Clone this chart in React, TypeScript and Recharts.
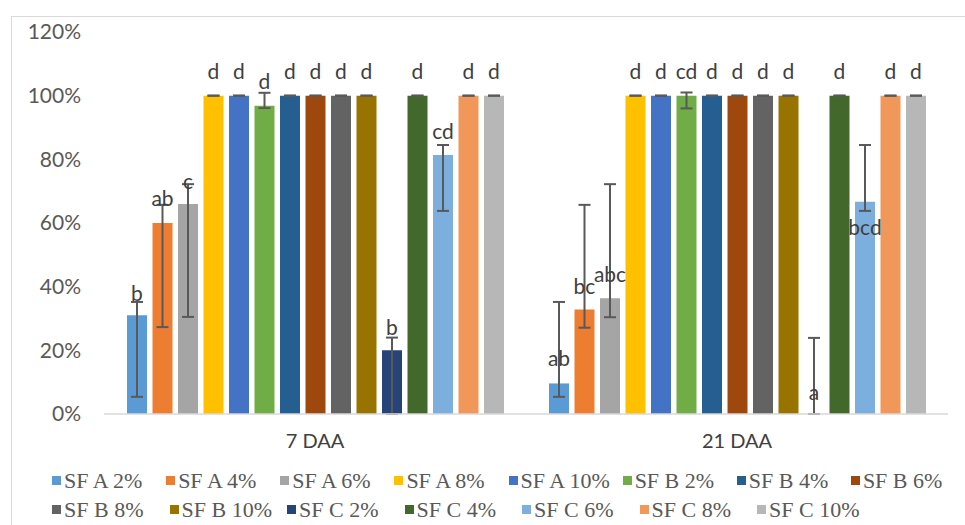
import React from 'react';
import { BarChart, Bar, XAxis, YAxis, ErrorBar, LabelList, Legend } from 'recharts';

const categories = ['7 DAA', '21 DAA'];

const seriesNames = [
  'SF A 2%', 'SF A 4%', 'SF A 6%', 'SF A 8%', 'SF A 10%',
  'SF B 2%', 'SF B 4%', 'SF B 6%', 'SF B 8%', 'SF B 10%',
  'SF C 2%', 'SF C 4%', 'SF C 6%', 'SF C 8%', 'SF C 10%',
];

const seriesColors = [
  '#5B9BD5', '#ED7D31', '#A5A5A5', '#FFC000', '#4472C4',
  '#70AD47', '#255E91', '#9E480E', '#636363', '#997300',
  '#264478', '#43682B', '#7CAFDD', '#F1975A', '#B7B7B7',
];

// percent values, one row per category (SF C 2% at 21 DAA is ~0)
const values7 = [31, 60, 66, 100, 100, 96.8, 100, 100, 100, 100, 20, 100, 81.4, 100, 100];
const values21 = [9.6, 32.8, 36.4, 100, 100, 100, 100, 100, 100, 100, 0.01, 100, 66.7, 100, 100];

// error amounts below / above the value
const errLow7 = [25.6, 32.7, 35.5, 0, 0, 0.7, 0, 0, 0, 0, 20, 0, 17.6, 0, 0];
const errHigh7 = [4.2, 5.7, 6.2, 0, 0, 4.1, 0, 0, 0, 0, 4, 0, 3.1, 0, 0];
const errLow21 = [4.2, 5.7, 6, 0, 0, 4, 0, 0, 0, 0, 0, 0, 2.9, 0, 0];
const errHigh21 = [25.6, 32.9, 35.8, 0, 0, 1, 0, 0, 0, 0, 23.9, 0, 17.8, 0, 0];

// significance letters and the height (in %) where each sits
const letters7 = ['b', 'ab', 'c', 'd', 'd', 'd', 'd', 'd', 'd', 'd', 'b', 'd', 'cd', 'd', 'd'];
const letters21 = ['ab', 'bc', 'abc', 'd', 'd', 'cd', 'd', 'd', 'd', 'd', 'a', 'd', 'bcd', 'd', 'd'];
const letterAt7 = [38.3, 67.9, 73.5, 107.8, 107.8, 104.7, 107.8, 107.8, 107.8, 107.8, 27.4, 107.8, 89.2, 107.8, 107.8];
const letterAt21 = [17.6, 40.5, 44, 107.8, 107.8, 107.8, 107.8, 107.8, 107.8, 107.8, 7.2, 107.8, 58.8, 107.8, 107.8];

const yTicks = [0, 20, 40, 60, 80, 100, 120];

const valueRows = [values7, values21];
const letterAtRows = [letterAt7, letterAt21];

const chartData = categories.map((cat, c) => {
  const row: any = { name: cat };
  seriesNames.forEach((_, i) => {
    row[`s${i}`] = valueRows[c][i];
    row[`e${i}`] = c === 0 ? [errLow7[i], errHigh7[i]] : [errLow21[i], errHigh21[i]];
    row[`l${i}`] = c === 0 ? letters7[i] : letters21[i];
  });
  return row;
});

// px per percent, taken from the bars the library has drawn
let pxPerUnit = 0;

const makeLetter = (i: number) => (props: any) => {
  const { x, y, width, height, value, index } = props;
  const v = valueRows[index][i];
  if (v >= 1 && height > 0) pxPerUnit = height / v;
  const base = Number(y) + Number(height);
  const ly = base - letterAtRows[index][i] * pxPerUnit;
  return (
    <text
      x={Number(x) + Number(width) / 2}
      y={ly}
      textAnchor="middle"
      dominantBaseline="central"
      fill="#404040"
      fontSize={21}
      fontFamily="Lato, sans-serif"
    >
      {value}
    </text>
  );
};

const LegendRows = () => (
  <div style={{ width: 965, fontFamily: '"Liberation Serif", "Times New Roman", serif', fontSize: 22, color: '#595959' }}>
    {[0, 1].map((r) => (
      <div key={r} style={{ display: 'flex', paddingLeft: 52, height: 29, alignItems: 'center' }}>
        {seriesNames.slice(r * 8, r * 8 + 8).map((n, k) => (
          <div key={n} style={{ width: 117.5, display: 'flex', alignItems: 'center', whiteSpace: 'nowrap' }}>
            <span style={{ width: 9, height: 9, background: seriesColors[r * 8 + k], marginRight: 3 }} />
            {n}
          </div>
        ))}
      </div>
    ))}
  </div>
);

export default function App() {
  return (
    <div style={{ position: 'absolute', left: 0, top: 0, width: 965, height: 525, background: '#fff', overflow: 'hidden' }}>
      <div style={{ position: 'absolute', left: 11, top: 16, width: 1000, height: 600, borderLeft: '1.5px solid #d9d9d9', borderTop: '1.5px solid #d9d9d9' }} />
      <div style={{ position: 'absolute', left: 0, top: 0 }}>
        <BarChart
          width={965}
          height={525}
          data={chartData}
          margin={{ top: 32, right: 17, left: 0, bottom: 0 }}
          barSize={20}
          barGap={5.5}
        >
          <XAxis
            dataKey="name"
            axisLine={{ stroke: '#d9d9d9', strokeWidth: 1.5 }}
            tickLine={false}
            tickSize={0}
            tickMargin={20}
            height={53}
            tick={{ fill: '#404040', fontSize: 20, fontFamily: 'Lato, sans-serif' }}
          />
          <YAxis
            domain={[0, 120]}
            ticks={yTicks}
            width={104}
            axisLine={false}
            tickLine={false}
            tickSize={0}
            tickMargin={23}
            tickFormatter={(v) => `${v}%`}
            tick={{ fill: '#595959', fontSize: 21, fontFamily: 'Lato, sans-serif' }}
          />
          <Legend
            content={<LegendRows />}
            wrapperStyle={{ position: 'absolute', left: 0, top: 466, width: 965 }}
          />
          {seriesNames.map((n, i) => (
            <Bar key={n} name={n} dataKey={`s${i}`} fill={seriesColors[i]} isAnimationActive={false}>
              <ErrorBar dataKey={`e${i}`} width={6} stroke="#595959" strokeWidth={2} direction="y" />
              <LabelList dataKey={`l${i}`} content={makeLetter(i)} />
            </Bar>
          ))}
        </BarChart>
      </div>
    </div>
  );
}
